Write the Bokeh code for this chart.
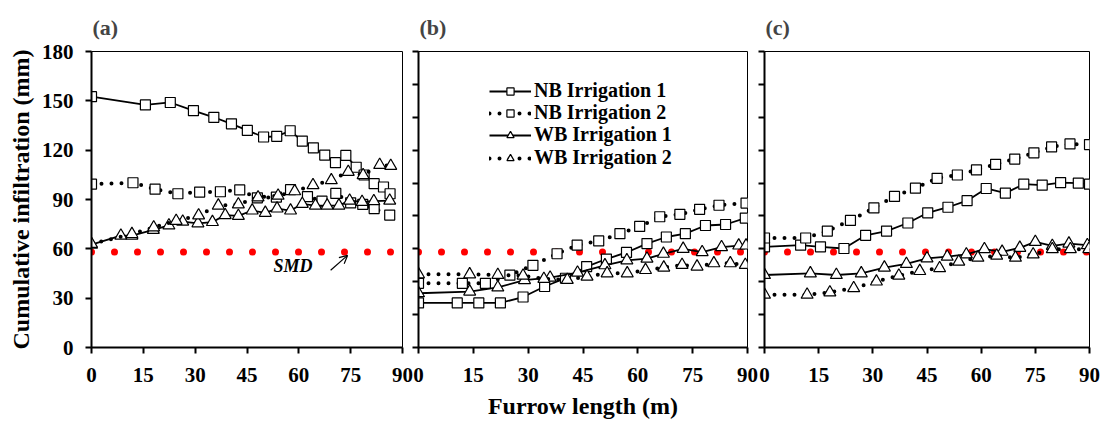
from bokeh.plotting import figure
from bokeh.layouts import row
from bokeh.models import Range1d, FixedTicker, Legend, LegendItem, Label, Arrow, OpenHead
from bokeh.embed import file_html
from bokeh.resources import INLINE

FONT = "Liberation Serif"

x_ticks = [0, 15, 30, 45, 60, 75, 90]
y_ticks_a = [0, 30, 60, 90, 120, 150, 180]
y_ticks_bc = [0, 20, 40, 60, 80, 100, 120, 140, 160, 180]
smd = 58
series_names = ["NB Irrigation 1", "NB Irrigation 2", "WB Irrigation 1", "WB Irrigation 2"]
panel_titles = ["(a)", "(b)", "(c)"]

# ---- panel (a)
a_nb1_x = [0, 15.6, 22.8, 29.5, 35.4, 40.5, 45.1, 49.8, 53.6, 57.5, 61, 64.2, 67.5, 70.6, 73.6, 76.6, 78.9, 81.8, 84.5, 86.4]
a_nb1_y = [152.5, 147.5, 149, 144, 140, 136, 132, 128, 128.4, 131.8, 125.5, 121.4, 117, 112.4, 116.8, 109.6, 104.9, 99.6, 97.6, 93.5]
a_nb2_x = [0, 12, 18.4, 25, 31.3, 37.3, 42.9, 48, 53.5, 57.6, 62.5, 66.7, 70.7, 75, 78.5, 81.8, 86.3]
a_nb2_y = [99.3, 100.2, 96.3, 93.5, 94.5, 94.7, 95.8, 91, 91.5, 96, 91.8, 89, 93.7, 88, 87, 84.5, 80.5]
a_wb1_x = [0, 8.5, 11.7, 17.9, 22.4, 26.4, 30.8, 35, 38.7, 42.5, 46.5, 50.3, 53.7, 57.6, 61, 64.8, 68.2, 71.6, 74.7, 78.3, 81.7, 86.3]
a_wb1_y = [62.5, 68, 68, 71.5, 74.2, 76.5, 75.5, 76.3, 80.5, 80, 83.3, 81.9, 84.5, 83.3, 87.3, 86.3, 86.3, 86.3, 89.3, 88.5, 89, 89.3]
a_wb2_x = [0, 11.7, 18, 24.5, 31, 36.7, 42.5, 48.2, 54, 58.8, 64.1, 69.4, 74.3, 78.6, 83.4, 86.6]
a_wb2_y = [63, 69, 73, 77, 80.3, 86.3, 87, 91.3, 92.3, 95, 98.7, 101.7, 106.8, 104.8, 111, 110.4]

# ---- panel (b)
b_nb1_x = [0, 10.6, 16.5, 22.4, 28.6, 34.5, 40.2, 46, 51.4, 56.9, 62.5, 67.8, 73, 78.5, 84, 89.4]
b_nb1_y = [27.1, 27.1, 27.1, 27.1, 30.7, 37.1, 42.1, 49.2, 53.8, 57.8, 63.2, 67.2, 69.2, 74.2, 74.8, 78.7]
b_nb2_x = [0, 12, 18.3, 25, 31.3, 37.9, 43.4, 49.3, 55.1, 60.5, 66, 71.5, 76.9, 82.2, 89.6]
b_nb2_y = [39, 39, 39, 44, 50, 57, 62.2, 64.8, 69.2, 73.6, 79.5, 81, 84, 86.5, 87.8]
b_wb1_x = [0, 14, 21.7, 29, 36, 43.5, 51, 57, 62.5, 67, 72.4, 77.6, 82.9, 87.6, 89.6]
b_wb1_y = [33, 34, 36.5, 41, 42.5, 45.5, 50, 53, 54, 57, 60, 58, 61, 62, 62]
b_wb2_x = [0, 14, 21.7, 28.6, 34.3, 40.7, 46.1, 51.6, 57.1, 62.1, 67.1, 72.1, 76.2, 80.8, 85.3, 89.4]
b_wb2_y = [44.5, 44.5, 44.1, 43.7, 41.7, 41.1, 43.1, 45.1, 45.1, 47.1, 48.6, 50.2, 49.2, 51.2, 51.2, 50.2]

# ---- panel (c)
c_nb1_x = [0, 10, 15.5, 22, 28, 33.8, 39.7, 45.2, 50.8, 56.1, 61.4, 66.7, 71.8, 76.9, 82, 86.9, 90]
c_nb1_y = [61.2, 62.2, 61.2, 60.2, 68.2, 70.8, 75.7, 81.9, 85.3, 89.3, 96.7, 93.9, 99.3, 98.7, 100.3, 99.9, 99.3]
c_nb2_x = [0, 11.4, 17.4, 23.8, 30.3, 36, 41.8, 47.8, 53.4, 58.7, 64, 69.3, 74.6, 79.5, 84.6, 90]
c_nb2_y = [66.6, 66.6, 70.8, 77.3, 84.9, 91.9, 96.9, 102.9, 104.9, 108, 111.4, 114.6, 118.4, 122, 123.8, 123.4]
c_wb1_x = [0, 12.7, 19.9, 26.8, 33.2, 39.3, 45, 50.6, 55.9, 60.9, 65.8, 70.7, 75, 79.7, 84.3, 89.4]
c_wb1_y = [44.1, 45.1, 44.1, 45.1, 48.6, 50.8, 54.2, 55.2, 56.6, 59.8, 58.2, 60.6, 64.2, 61.8, 63.2, 62.2]
c_wb2_x = [0, 11.8, 18.1, 24.7, 31, 37.2, 43, 48.5, 53.8, 59.1, 64.3, 69.5, 74.4, 79.7, 84.7, 89.8]
c_wb2_y = [32.1, 32.1, 33.5, 36.1, 40.1, 43.7, 46.5, 48.2, 52.2, 54.6, 55.8, 54.6, 56.6, 59.8, 59.8, 59.8]

panels = [
    [(a_nb1_x, a_nb1_y), (a_nb2_x, a_nb2_y), (a_wb1_x, a_wb1_y), (a_wb2_x, a_wb2_y)],
    [(b_nb1_x, b_nb1_y), (b_nb2_x, b_nb2_y), (b_wb1_x, b_wb1_y), (b_wb2_x, b_wb2_y)],
    [(c_nb1_x, c_nb1_y), (c_nb2_x, c_nb2_y), (c_wb1_x, c_wb1_y), (c_wb2_x, c_wb2_y)],
]

markers = ["square", "square", "triangle", "triangle"]
dotted = [False, True, False, True]

# layout geometry (pixels)
frame_w = [311, 329, 325]
border_l = [91, 13, 13]
border_r = [13, 12, 14]
margins_l = [0, -10, -8]
TOP, BOTTOM, FRAME_H = 51, 71, 299
legend_rows_y = [245, 223, 201, 178]   # legend row placement (px above frame bottom)

figs = []
for i in range(3):
    p = figure(width=border_l[i] + frame_w[i] + border_r[i], height=TOP + FRAME_H + BOTTOM,
               output_backend="svg", toolbar_location=None,
               x_range=Range1d(0, 90), y_range=Range1d(0, 180),
               min_border_left=border_l[i], min_border_right=border_r[i],
               min_border_top=TOP, min_border_bottom=BOTTOM,
               title=panel_titles[i])
    p.margin = (0, 0, 0, margins_l[i])
    if i > 0:
        p.border_fill_alpha = 0
    p.xgrid.visible = False
    p.ygrid.visible = False
    p.outline_line_color = "black"
    p.outline_line_width = 1

    p.title.text_font = FONT
    p.title.text_font_size = "22px"
    p.title.text_font_style = "bold"
    p.title.align = "left"
    p.title.offset = 1
    p.title.standoff = 24

    for ax in (p.xaxis[0], p.yaxis[0]):
        ax.axis_line_width = 2
        ax.axis_line_color = "black"
        ax.major_tick_line_width = 2
        ax.major_tick_line_color = "black"
        ax.major_tick_out = 6
        ax.major_tick_in = 0
        ax.minor_tick_line_width = 2
        ax.minor_tick_line_color = "black"
        ax.minor_tick_out = 0
        ax.minor_tick_in = 0
        ax.major_label_text_font = FONT
        ax.major_label_text_font_style = "bold"
        ax.major_label_text_font_size = "21px"
        ax.major_label_text_color = "black"
        ax.axis_label_text_font = FONT
        ax.axis_label_text_font_style = "bold"
        ax.axis_label_text_font_size = "24px"
        ax.axis_label_text_color = "black"

    p.xaxis.ticker = FixedTicker(ticks=x_ticks)
    p.xaxis.major_label_standoff = 14
    if i == 1:
        p.xaxis.axis_label = "Furrow length (m)"
        p.xaxis.axis_label_standoff = 8
    if i == 0:
        p.yaxis.ticker = FixedTicker(ticks=y_ticks_a)
        p.yaxis.axis_label = "Cumulative infiltration (mm)"
        p.yaxis.major_label_standoff = 12
        p.yaxis.axis_label_standoff = 5
    else:
        # unlabeled ticks every 20 mm, drawn as minor ticks (no tick labels)
        p.yaxis.ticker = FixedTicker(ticks=[], minor_ticks=y_ticks_bc)
        p.yaxis.minor_tick_out = 6

    # SMD reference line
    p.line([0, 90], [smd, smd], line_color="#ff0000", line_width=7,
           line_cap="round", line_dash="0 23")

    items = []
    for k, (xs, ys) in enumerate(panels[i]):
        if dotted[k]:
            lr = p.line(xs, ys, line_color="black", line_width=4,
                        line_cap="round", line_dash="0 10")
        else:
            lr = p.line(xs, ys, line_color="black", line_width=1.8)
        size = 10 if markers[k] == "square" else 12
        sr = p.scatter(xs, ys, marker=markers[k], size=size, fill_color="white",
                       line_color="black", line_width=1.2)
        items.append(LegendItem(label=series_names[k], renderers=[lr, sr]))

    if i == 0:
        p.add_layout(Label(x=52.7, y=49.4, text="SMD", text_font=FONT,
                           text_font_style="bold italic", text_font_size="18px",
                           text_baseline="middle", text_color="black"))
        p.add_layout(Arrow(end=OpenHead(size=8, line_width=1.2, line_color="black"),
                           x_start=69.2, y_start=47, x_end=74.1, y_end=56,
                           line_width=1.2, line_color="black"))
    if i == 1:
        for k, item in enumerate(items):
            lg = Legend(items=[item], location=(71, legend_rows_y[k]), padding=0, margin=0,
                        glyph_width=42, glyph_height=18, label_height=18, label_standoff=3,
                        border_line_alpha=0, background_fill_alpha=0,
                        label_text_font=FONT, label_text_font_style="bold",
                        label_text_font_size="20px", label_text_color="black")
            p.add_layout(lg)
    figs.append(p)

layout = row(*figs)
open("out.html", "w").write(file_html(layout, INLINE))
